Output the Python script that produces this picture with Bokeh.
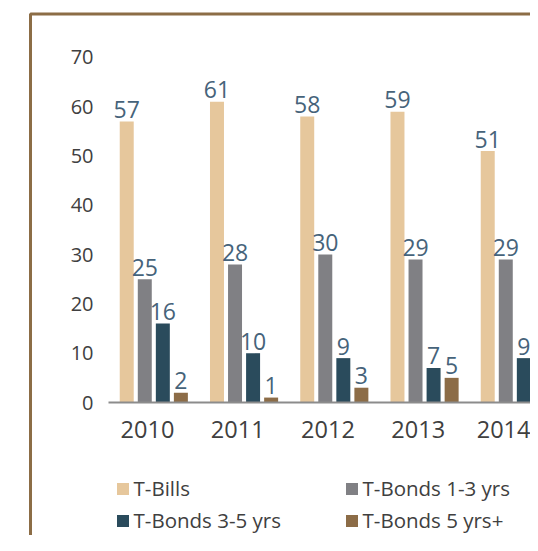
import numpy as np
from bokeh.plotting import figure
from bokeh.models import (ColumnDataSource, FixedTicker, Legend, LegendItem, LinearAxis,
                          BoxAnnotation)
from bokeh.core.properties import value
from bokeh.embed import file_html
from bokeh.resources import INLINE

years = ["2010", "2011", "2012", "2013", "2014"]
t_bills = [57, 61, 58, 59, 51]
t_bonds_1_3 = [25, 28, 30, 29, 29]
t_bonds_3_5 = [16, 10, 9, 7, 9]
t_bonds_5p = [2, 1, 3, 5, 11]

series = [
    ("T-Bills", t_bills, "#E6C79C"),
    ("T-Bonds 1-3 yrs", t_bonds_1_3, "#808084"),
    ("T-Bonds 3-5 yrs", t_bonds_3_5, "#2A4B5C"),
    ("T-Bonds 5 yrs+", t_bonds_5p, "#8C6C47"),
]
offsets = [-0.23, -0.03, 0.17, 0.37]
bar_w = 0.155

# layout (px): whole figure is the frame; axes are placed inside it
W, H = 530, 535
PX_X = 90.25           # px per category
PX_Y = 4.93            # px per unit
AXIS_LEFT_PX = 108     # plot area left, from figure left
ZERO_PX = 402          # y=0, from figure top
PLOT_LEFT = -0.432     # data x at plot area left
x_start = PLOT_LEFT - AXIS_LEFT_PX / PX_X
x_end = PLOT_LEFT + (W - AXIS_LEFT_PX) / PX_X
y_end = ZERO_PX / PX_Y
y_start = -(H - ZERO_PX) / PX_Y

FONT = value("Open Sans")
TXT = "#404040"
BORDER = "#8C6D46"

p = figure(width=W, height=H, x_range=(x_start, x_end), y_range=(y_start, y_end),
           output_backend="svg", toolbar_location=None,
           x_axis_location=None, y_axis_location=None,
           min_border=0)
p.outline_line_color = None
p.xgrid.visible = False
p.ygrid.visible = False
p.background_fill_color = "white"
p.border_fill_color = "white"

# brown frame (left and top edges visible)
p.add_layout(BoxAnnotation(left=x_start + 30 / PX_X, top=y_end - 13.5 / PX_Y,
                           right=x_end + 5, bottom=y_start - 20,
                           fill_alpha=0, line_color=BORDER, line_alpha=1.0,
                           line_width=3, level="underlay"))

idx = np.arange(len(years))
items = []
for (name, vals, col), off in zip(series, offsets):
    src = ColumnDataSource(dict(x=idx + off, top=vals, lab=[str(v) for v in vals]))
    r = p.vbar(x="x", top="top", width=bar_w, source=src, fill_color=col, line_color=None)
    p.text(x="x", y="top", text="lab", source=src, text_align="center", text_baseline="alphabetic",
           y_offset=-12, text_font=FONT, text_font_size="23px", text_color="#46637A")
    items.append(LegendItem(label=name, renderers=[r]))

# y axis, fixed at the plot-area left
ya = LinearAxis(fixed_location=PLOT_LEFT)
ya.ticker = FixedTicker(ticks=list(range(0, 71, 10)))
ya.axis_line_color = None
ya.major_tick_line_color = None
ya.major_tick_out = 0
ya.major_tick_in = 0
ya.minor_tick_line_color = None
ya.minor_tick_out = 0
ya.major_label_standoff = 15
ya.major_label_text_font = "Open Sans"
ya.major_label_text_font_size = "20px"
ya.major_label_text_color = TXT
p.add_layout(ya, "left")

# x axis at y=0
xa = LinearAxis(fixed_location=0, bounds=(PLOT_LEFT, x_end + 1))
xa.ticker = FixedTicker(ticks=list(idx))
xa.major_label_overrides = {int(i): y for i, y in zip(idx, years)}
xa.axis_line_color = "#8C8C8C"
xa.axis_line_width = 2
xa.major_tick_line_color = None
xa.major_tick_out = 0
xa.major_tick_in = 0
xa.minor_tick_line_color = None
xa.minor_tick_out = 0
xa.major_label_standoff = 18
xa.major_label_text_font = "Open Sans"
xa.major_label_text_font_size = "23.5px"
xa.major_label_text_color = TXT
p.add_layout(xa, "below")

legend = Legend(items=items, location=(114.5, 1), orientation="horizontal", ncols=2,
                glyph_width=15, glyph_height=15, label_standoff=4, label_width=206,
                label_height=24, spacing=4, padding=0, margin=0,
                border_line_color=None, background_fill_alpha=0,
                label_text_font="Open Sans", label_text_font_size="20.5px",
                label_text_color=TXT)
p.add_layout(legend, "center")

open("out.html", "w").write(file_html(p, INLINE))
